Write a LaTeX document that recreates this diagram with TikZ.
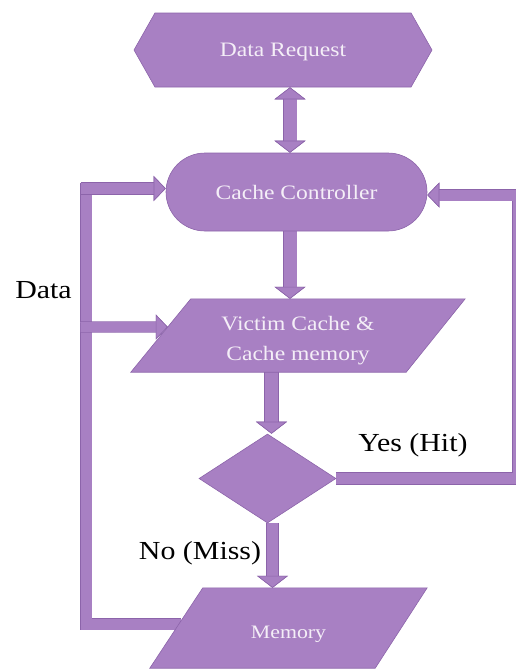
\documentclass[tikz,border=0pt]{standalone}
\usepackage{fontspec}
\setmainfont{Liberation Serif}[FakeStretch=1.15]
\usetikzlibrary{arrows.meta,calc,shapes.geometric,shapes.symbols}
\definecolor{boxc}{HTML}{A880C3}
\definecolor{edgec}{HTML}{8C64AA}
\definecolor{inkw}{HTML}{F4EEF7}
\pgfdeclarelayer{bg}
\pgfdeclarelayer{shapes}
\pgfsetlayers{bg,shapes,main}
\tikzset{
  bighead/.tip={Triangle[width=31pt,length=12pt,line width=0.6pt,fill=boxc,color=edgec]},
  smallhead/.tip={Triangle[width=25pt,length=12pt,line width=0.6pt,fill=boxc,color=edgec]},
}
\begin{document}
\begin{tikzpicture}[x=1pt,y=-1pt,
  box/.style={fill=boxc, draw=edgec, line width=0.6pt, text=inkw,
    font=\fontsize{20.5}{30}\selectfont, align=center, inner sep=0pt},
  slanted/.style={text=inkw, font=\fontsize{20.5}{30}\selectfont, align=center,
    inner sep=0pt, rectangle},
  pshape/.style={fill=boxc, draw=edgec, line width=0.6pt, line join=miter},
  lbl/.style={font=\fontsize{26}{30}\selectfont, text=black, inner sep=0pt},
  pipe/.style={draw=boxc, line width=#1, line join=miter, line cap=butt,
    preaction={draw=edgec, line width=#1+1.2pt}},
]
\useasboundingbox (0,0) rectangle (515,670);

% flowchart blocks
\node[box, signal, signal to=west and east, signal pointer angle=121,
      minimum width=298pt, minimum height=74pt] (req) at (283,50)
      {\rule{0pt}{18pt}Data Request};
\node[box, rectangle, rounded corners=39pt, minimum width=261pt,
      minimum height=78pt] (cc) at (296.5,192) {Cache Controller};
\node[slanted, minimum width=334pt, minimum height=73pt]
      (vc) at (298,335.5) {\rule{0pt}{24pt}Victim Cache \&\\Cache memory};
\node[box, diamond, minimum width=137pt, minimum height=89pt] (dia) at (267.5,478.5) {};
\node[slanted, minimum width=277pt, minimum height=80pt,
      font=\fontsize{19}{24}\selectfont] (mem) at (288.5,628)
      {\rule{0pt}{25pt}Memory};

% parallelogram outlines of the two storage blocks
\coordinate (vctl) at ([xshift=60pt]vc.north west);
\coordinate (vcbr) at ([xshift=-59pt]vc.south east);
\coordinate (memtl) at ([xshift=53pt]mem.north west);
\coordinate (membr) at ([xshift=-52pt]mem.south east);
\begin{pgfonlayer}{shapes}
  \draw[pshape] (vc.south west) -- (vctl) -- (vc.north east) -- (vcbr) -- cycle;
  \draw[pshape] (mem.south west) -- (memtl) -- (mem.north east) -- (membr) -- cycle;
\end{pgfonlayer}

% labels
\node[lbl] (ldata) at (43.5,290) {Data};
\node[lbl] (lyes) at (413,445) {Yes (Hit)};
\node[lbl] (lno) at (200,553) {No (Miss)};

% loop corners and branch points
\coordinate (ltop) at (86,183);
\coordinate (lbr1) at (80.5,188.5);
\coordinate (lbr2) at (80.5,327);
\coordinate (rcol) at (518,195);
\coordinate (vcin) at ($(vc.south west)!0.616!(vctl)$);

\begin{pgfonlayer}{bg}
  % main vertical flow
  \draw[pipe=13pt, bighead-bighead] ([xshift=7pt]req.south) -- ([xshift=-6.5pt]cc.north);
  \draw[pipe=13pt, -bighead] ([xshift=-6.5pt]cc.south) -- ([xshift=-8pt]vc.north);
  \draw[pipe=13pt, -bighead] ([xshift=-26.5pt]vc.south) -- ([xshift=4pt]dia.north);
  \draw[pipe=11pt, -bighead] ([xshift=5pt]dia.south) -- ([xshift=-16pt]mem.north);
  % hit: back to the controller
  \draw[pipe=11pt, -smallhead] (dia.east) -| (rcol) -- ([yshift=-3pt]cc.east);
  % data returned from memory
  \draw[pipe=11pt] ([xshift=31pt,yshift=4pt]mem.west) -| (ltop);
  \draw[pipe=11pt, -smallhead] (lbr1) -- ([yshift=3.5pt]cc.west);
  \draw[pipe=10pt, -smallhead] (lbr2) -- (vcin);
\end{pgfonlayer}
\end{tikzpicture}
\end{document}
